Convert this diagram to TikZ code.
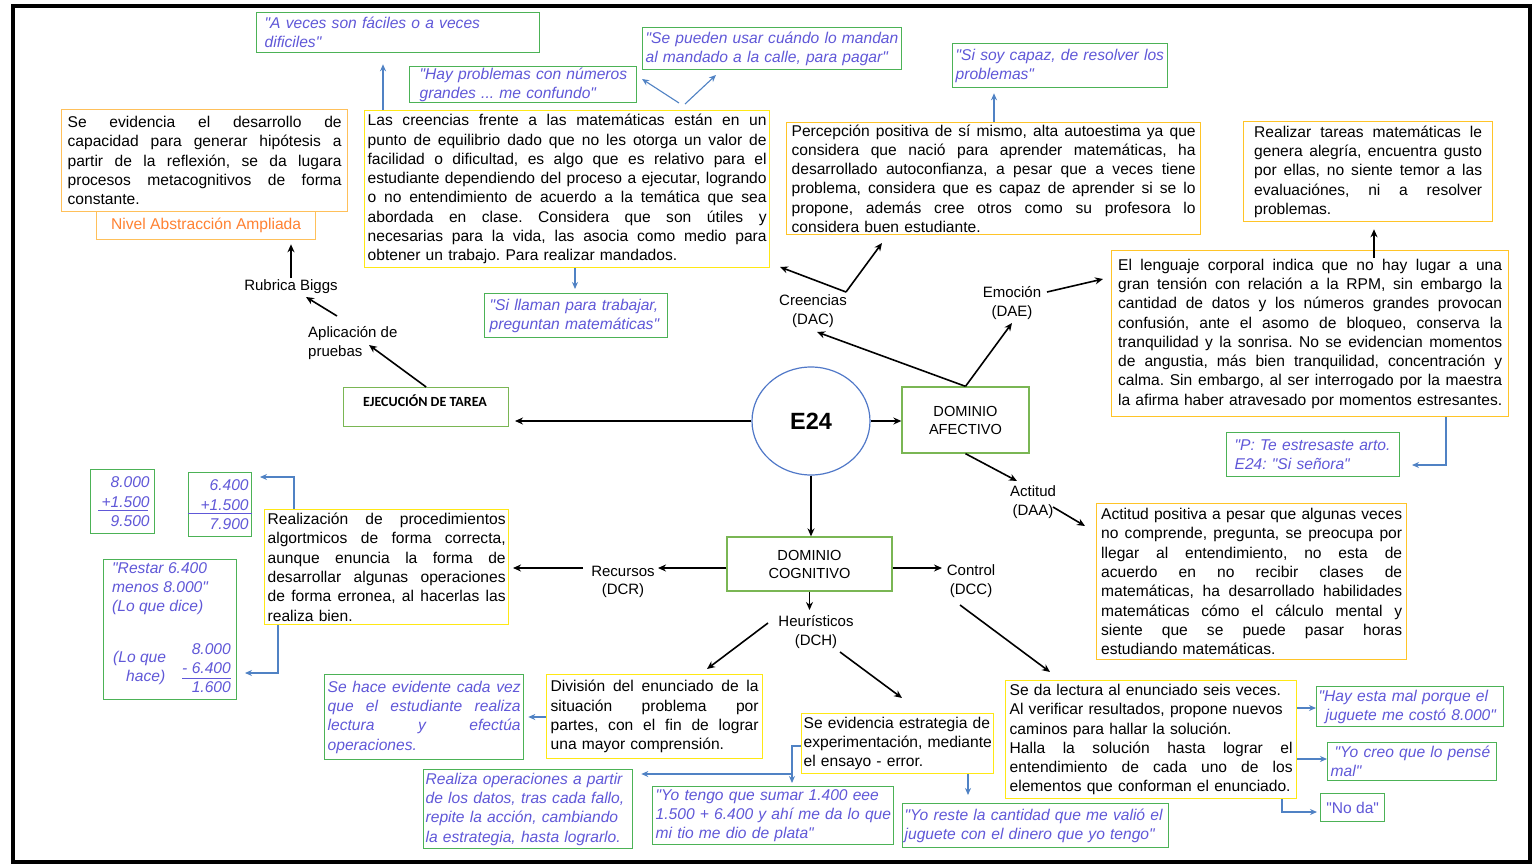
\documentclass[tikz,border=0pt]{standalone}
\usepackage{fontspec}
\setmainfont{Liberation Sans}
\newfontfamily\calib{Carlito}
\usetikzlibrary{arrows.meta,shapes.geometric}
\definecolor{qblue}{RGB}{96,88,216}
\definecolor{gbord}{RGB}{76,178,86}
\definecolor{dgreen}{RGB}{122,182,84}
\definecolor{ybord}{RGB}{255,232,20}
\definecolor{obord}{RGB}{255,196,40}
\definecolor{lorng}{RGB}{255,192,90}
\definecolor{lblue}{RGB}{80,130,196}
\definecolor{cblue}{RGB}{80,120,200}
\definecolor{orng}{RGB}{255,130,50}
\newcommand\jl[1]{{\frenchspacing\spaceskip=\fontdimen2\font plus 1fil minus 0.08em\relax\xspaceskip=\spaceskip\makebox[\hsize][s]{#1}}\par}
\newcommand\rl[1]{\mbox{#1}\par}
\newcommand\dq{\XeTeXglyph\XeTeXcharglyph"22\relax}
\begin{document}
\frenchspacing
\begin{tikzpicture}[x=1pt,y=-1pt,
 bx/.style={anchor=north west, inner ysep=0pt, line width=1.3pt, font=\fontsize{15.6}{19.3}\selectfont},
 ybox/.style={bx, draw=ybord},
 obox/.style={bx, draw=obord},
 gbox/.style={bx, draw=gbord, text=qblue, font=\fontsize{15.6}{19.3}\selectfont\itshape, align=left},
 nbox/.style={gbox, align=right, font=\fontsize{15.6}{19.5}\selectfont\itshape},
 qtext/.style={anchor=north west, inner sep=0pt, align=left, text=qblue, font=\fontsize{15.6}{19.3}\selectfont\itshape},
 dbox/.style={draw=dgreen, line width=1.3pt, align=center, font=\fontsize{14.6}{18}\selectfont, inner sep=0pt},
 lbl/.style={align=center, font=\fontsize{15}{18.5}\selectfont, inner sep=0pt},
 arr/.style={-{Stealth[length=8pt,width=7pt]}, line width=1.6pt},
 barr/.style={-{Stealth[length=7pt,width=6pt]}, line width=1.1pt, draw=lblue},
]
\fill[white] (0,0) rectangle (1535,865);
\useasboundingbox (0,0) rectangle (1535,865);
\draw[line width=4.5pt] (13,6) rectangle (1530,862);

% ---------- top left ----------
\node[obox, draw=lorng, minimum width=286pt, minimum height=102pt, inner xsep=6pt, text width=274pt] (evid) at (61,109)
 {\jl{Se evidencia el desarrollo de}\jl{capacidad para generar hipótesis a}\jl{partir de la reflexión, se da lugara}\jl{procesos metacognitivos de forma}\rl{constante.}};
\node[bx, draw=lorng, text=orng, minimum width=219pt, minimum height=28pt, inner xsep=0pt] (nivel) at (96,211) {Nivel Abstracción Ampliada};
\node[lbl] (rub) at (291,287) {Rubrica Biggs};
\node[lbl, align=left, anchor=west] (apl) at (308,343) {Aplicación de\\pruebas};
\node[bx, draw=dgreen, minimum width=165pt, minimum height=39pt, inner xsep=0pt] (ejec) at (343,387) {};
\node[inner sep=0pt, font=\calib\bfseries\fontsize{14}{16}\selectfont] (eject) at (425,401) {EJECUCIÓN DE TAREA};

% ---------- top quotes ----------
\node[gbox, minimum width=283pt, minimum height=40pt, inner xsep=8pt, text width=267pt] (avc) at (256,12)
 {\rl{\dq A veces son fáciles o a veces}\rl{dificiles\dq}};
\node[gbox, minimum width=227pt, minimum height=36pt, inner xsep=10pt, text width=207pt] (hpr) at (409,66)
 {\rl{\dq Hay problemas con números}\rl{grandes ... me confundo\dq}};
\node[gbox, minimum width=259pt, minimum height=42pt, inner xsep=3pt, text width=253pt] (spu) at (642,27)
 {\rl{\dq Se pueden usar cuándo lo mandan}\rl{al mandado a la calle, para pagar\dq}};
\node[gbox, minimum width=215pt, minimum height=44pt, inner xsep=3pt, text width=209pt] (ssc) at (952,43)
 {\rl{\dq Si soy capaz, de resolver los}\rl{problemas\dq}};
\node[gbox, minimum width=183pt, minimum height=44pt, inner xsep=5pt, text width=173pt] (sll) at (484,293)
 {\rl{\dq Si llaman para trabajar,}\rl{preguntan matemáticas\dq}};

% ---------- creencias / percepcion ----------
\node[ybox, minimum width=405pt, minimum height=157pt, inner xsep=3pt, text width=399pt] (cre) at (364,110)
 {\jl{Las creencias frente a las matemáticas están en un}\jl{punto de equilibrio dado que no les otorga un valor de}\jl{facilidad o dificultad, es algo que es relativo para el}\jl{estudiante dependiendo del proceso a ejecutar, logrando}\jl{o no entendimiento de acuerdo a la temática que sea}\jl{abordada en clase. Considera que son útiles y}\jl{necesarias para la vida, las asocia como medio para}\rl{obtener un trabajo. Para realizar mandados.}};
\node[obox, minimum width=414pt, minimum height=112pt, inner xsep=5pt, text width=404pt] (perc) at (786,122)
 {\jl{Percepción positiva de sí mismo, alta autoestima ya que}\jl{considera que nació para aprender matemáticas, ha}\jl{desarrollado autoconfianza, a pesar que a veces tiene}\jl{problema, considera que es capaz de aprender si se lo}\jl{propone, además cree otros como su profesora lo}\rl{considera buen estudiante.}};
\node[obox, minimum width=249pt, minimum height=100pt, inner xsep=10.5pt, text width=228pt] (realz) at (1243,121)
 {\jl{Realizar tareas matemáticas le}\jl{genera alegría, encuentra gusto}\jl{por ellas, no siente temor a las}\jl{evaluaciónes, ni a resolver}\rl{problemas.}};
\node[obox, minimum width=397pt, minimum height=166pt, inner xsep=6.5pt, text width=384pt] (leng) at (1111,250)
 {\jl{El lenguaje corporal indica que no hay lugar a una}\jl{gran tensión con relación a la RPM, sin embargo la}\jl{cantidad de datos y los números grandes provocan}\jl{confusión, ante el asomo de bloqueo, conserva la}\jl{tranquilidad y la sonrisa. No se evidencian momentos}\jl{de angustia, más bien tranquilidad, concentración y}\jl{calma. Sin embargo, al ser interrogado por la maestra}\rl{la afirma haber atravesado por momentos estresantes.}};
\node[gbox, minimum width=173pt, minimum height=44pt, inner xsep=8pt, text width=157pt] (pte) at (1226,432)
 {\rl{\dq P: Te estresaste arto.}\rl{E24: \dq Si señora\dq}};
\node[obox, minimum width=310pt, minimum height=156pt, inner xsep=4.5pt, text width=301pt] (acti) at (1096,503)
 {\jl{Actitud positiva a pesar que algunas veces}\jl{no comprende, pregunta, se preocupa por}\jl{llegar al entendimiento, no esta de}\jl{acuerdo en no recibir clases de}\jl{matemáticas, ha desarrollado habilidades}\jl{matemáticas cómo el cálculo mental y}\jl{siente que se puede pasar horas}\rl{estudiando matemáticas.}};

% ---------- centre ----------
\node[ellipse, draw=cblue, line width=1.2pt, minimum width=118pt, minimum height=108pt, inner sep=0pt, font=\bfseries\fontsize{23.5}{26}\selectfont] (e24) at (811,421) {E24};
\node[dbox, minimum width=127pt, minimum height=66pt] (da) at (965.5,420) {DOMINIO\\AFECTIVO};
\node[dbox, minimum width=165pt, minimum height=54pt] (dc) at (809.5,564) {DOMINIO\\COGNITIVO};
\node[lbl] (crel) at (813,311) {Creencias\\(DAC)};
\node[lbl] (emol) at (1012,303) {Emoción\\(DAE)};
\node[lbl] (actl) at (1033,502) {Actitud\\(DAA)};
\node[lbl] (recl) at (623,582) {Recursos\\(DCR)};
\node[lbl] (ctll) at (971,581) {Control\\(DCC)};
\node[lbl] (heul) at (816,632) {Heurísticos\\(DCH)};

% ---------- left middle ----------
\node[nbox, minimum width=64pt, minimum height=64pt, inner xsep=5pt, text width=54pt] (n8) at (90,469) {8.000\\+1.500\\9.500};
\node[nbox, minimum width=63pt, minimum height=64pt, inner xsep=3pt, text width=57pt] (n6) at (188,472) {6.400\\+1.500\\7.900};
\draw[qblue, line width=1pt] (98,510) -- (148,510);
\draw[qblue, line width=1pt] (n6.west |- 0,513) -- (n6.east |- 0,513);
\node[ybox, minimum width=244pt, minimum height=115pt, inner xsep=3pt, text width=238pt] (rlz) at (264,509)
 {\jl{Realización de procedimientos}\jl{algortmicos de forma correcta,}\jl{aunque enuncia la forma de}\jl{desarrollar algunas operaciones}\jl{de forma erronea, al hacerlas las}\rl{realiza bien.}};
\node[bx, draw=gbord, minimum width=133pt, minimum height=140pt, inner xsep=0pt] (rst) at (103,559) {};
\node[qtext] (rsa) at (112,562) {\dq Restar 6.400\\menos 8.000\dq\\(Lo que dice)};
\node[qtext] (rsb) at (113,651) {(Lo que\\\hspace*{13pt}hace)};
\node[qtext, anchor=north east, align=right] (rsc) at (231,643) {8.000\\- 6.400\\1.600};
\draw[qblue, line width=1pt] (182,678) -- (231,678);

% ---------- bottom ----------
\node[gbox, minimum width=199pt, minimum height=85pt, inner xsep=3pt, text width=193pt] (sehace) at (324,674)
 {\jl{Se hace evidente cada vez}\jl{que el estudiante realiza}\jl{lectura y efectúa}\rl{operaciones.}};
\node[ybox, minimum width=216pt, minimum height=84pt, inner xsep=4pt, text width=208pt] (divi) at (546,674)
 {\jl{División del enunciado de la}\jl{situación problema por}\jl{partes, con el fin de lograr}\rl{una mayor comprensión.}};
\node[ybox, align=left, minimum width=192pt, minimum height=60pt, inner xsep=2pt, text width=188pt] (estr) at (801,713)
 {\rl{Se evidencia estrategia de}\rl{experimentación, mediante}\rl{el ensayo - error.}};
\node[gbox, minimum width=209pt, minimum height=79pt, inner xsep=2pt, text width=205pt] (rop) at (423,769)
 {\rl{Realiza operaciones a partir}\rl{de los datos, tras cada fallo,}\rl{repite la acción, cambiando}\rl{la estrategia, hasta lograrlo.}};
\node[gbox, minimum width=241pt, minimum height=58pt, inner xsep=3pt, text width=235pt] (ytg) at (652,786)
 {\rl{\dq Yo tengo que sumar 1.400 eee}\rl{1.500 + 6.400 y ahí me da lo que}\rl{mi tio me dio de plata\dq}};
\node[gbox, minimum width=266pt, minimum height=44pt, inner xsep=2pt, text width=262pt] (yrs) at (902,803)
 {\rl{\dq Yo reste la cantidad que me valió el}\rl{juguete con el dinero que yo tengo\dq}};
\node[ybox, minimum width=291pt, minimum height=118pt, inner xsep=4pt, text width=283pt] (slec) at (1005,680)
 {\rl{Se da lectura al enunciado seis veces.}\rl{Al verificar resultados, propone nuevos}\rl{caminos para hallar la solución.}\jl{Halla la solución hasta lograr el}\jl{entendimiento de cada uno de los}\rl{elementos que conforman el enunciado.}};
\node[gbox, minimum width=187pt, minimum height=40pt, inner xsep=2pt, text width=183pt] (hay) at (1316,686)
 {\rl{\dq Hay esta mal porque el}\rl{\hspace*{7pt}juguete me costó 8.000\dq}};
\node[gbox, minimum width=169pt, minimum height=38pt, inner xsep=3pt, text width=163pt] (ycr) at (1327,742)
 {\rl{\hspace*{4pt}\dq Yo creo que lo pensé}\rl{mal\dq}};
\node[bx, draw=gbord, text=qblue, minimum width=64pt, minimum height=28pt, inner xsep=0pt] (noda) at (1320,793) {\dq No da\dq};

% ---------- black connectors ----------
\coordinate (ejin) at (515,421);
\draw[arr] (e24.west) -- (ejin);
\draw[arr] (e24.east) -- (e24.east -| da.west);
\draw[arr] (e24.south) -- (e24.south |- dc.north);
\coordinate (creend) at (817,332);
\coordinate (emoend) at (1012,323);
\draw[arr] (da.north) -- (creend);
\draw[arr] (da.north) -- (emoend);
\coordinate (crev) at (846,292);
\coordinate (crel1) at (780,267);
\coordinate (crer1) at (882,243);
\draw[arr] (crev) -- (crel1);
\draw[arr] (crev) -- (crer1);
\coordinate (emos) at (1047,292);
\coordinate (lengin) at (1103,279);
\draw[arr] (emos) -- (lengin);
\coordinate (actin) at (1017,481);
\draw[arr] (da.south) -- (actin);
\coordinate (acts) at (1053,507);
\coordinate (actbox) at (1085,526);
\draw[arr] (acts) -- (actbox);
\coordinate (recin) at (658,568);
\draw[arr] (dc.west |- recin) -- (recin);
\coordinate (recs) at (583,568);
\coordinate (rlzin) at (513,568);
\draw[arr] (recs) -- (rlzin);
\coordinate (ctlin) at (942,568);
\draw[arr] (dc.east |- ctlin) -- (ctlin);
\coordinate (ctls) at (960,605);
\coordinate (slecin) at (1050,672);
\draw[arr] (ctls) -- (slecin);
\coordinate (heuin) at (809.5,610);
\draw[arr] (dc.south) -- (heuin);
\coordinate (heus1) at (768,623);
\coordinate (diviin) at (707,669);
\draw[arr] (heus1) -- (diviin);
\coordinate (heus2) at (840,652);
\coordinate (estrin) at (902,698);
\draw[arr] (heus2) -- (estrin);
\coordinate (rubs) at (291,278);
\draw[arr] (rubs) -- ([yshift=-4pt]nivel.south -| rubs);
\coordinate (apls) at (337,316);
\coordinate (rube) at (306,297);
\draw[arr] (apls) -- (rube);
\coordinate (aple) at (369,345);
\draw[arr] (ejec.north) -- (aple);
\draw[arr] ([yshift=-8pt]leng.north -| 1374,0) -- ([yshift=-7pt]realz.south -| 1374,0);

% ---------- blue connectors ----------
\draw[barr, shorten >=11pt] (cre.north -| 383,0) -- (avc.south -| 383,0);
\coordinate (b2s) at (679,103);
\coordinate (b2e) at (642,79);
\coordinate (b3s) at (685,104);
\coordinate (b3e) at (716,75);
\draw[barr] (b2s) -- (b2e);
\draw[barr] (b3s) -- (b3e);
\draw[barr, shorten >=4pt] (cre.south -| 575,0) -- (sll.north -| 575,0);
\draw[barr, shorten >=5pt] (perc.north -| 994,0) -- (ssc.south -| 994,0);
\coordinate (b6e) at (1412,465);
\draw[barr] (leng.south -| 1446,0) |- (b6e);
\coordinate (b7e) at (260,477);
\draw[barr] (rlz.north -| 294,0) |- (b7e);
\coordinate (b8e) at (245,673);
\draw[barr] (rlz.south -| 278,0) |- (b8e);
\draw[barr, shorten >=4pt] (divi.west |- 0,717) -- (sehace.east |- 0,717);
\coordinate (b10c) at (792,783);
\draw[barr] (estr.west |- 0,746) -| (b10c);
\coordinate (b10s) at (792,774);
\draw[barr, shorten >=8pt] (b10s) -- (rop.east |- b10s);
\draw[barr, shorten >=8pt] (estr.south -| 968,0) -- (yrs.north -| 968,0);
\draw[barr] (slec.east |- 0,708) -- (hay.west |- 0,708);
\draw[barr] (slec.east |- 0,759) -- (ycr.west |- 0,759);
\coordinate (b14e) at (1317,812);
\draw[barr] (slec.south -| 1282,0) |- (b14e);
\end{tikzpicture}
\end{document}
